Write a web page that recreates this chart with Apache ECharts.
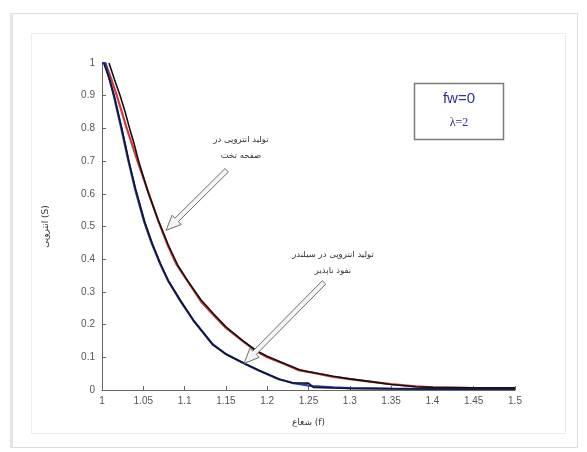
<!DOCTYPE html>
<html>
<head>
<meta charset="utf-8">
<script src="https://cdn.jsdelivr.net/npm/echarts@6/dist/echarts.min.js"></script>
<style>
  html, body { margin: 0; padding: 0; background: #ffffff; }
  #chart { width: 587px; height: 452px; }
</style>
</head>
<body>
<div id="chart"></div>
<script>
// Entropy generation profiles, fw = 0, lambda = 2
// Plate: red reference curve with the computed black curve over it
const plateRadius = [1.004, 1.010, 1.018, 1.030, 1.043, 1.056, 1.068, 1.080, 1.090, 1.103, 1.120, 1.134, 1.150, 1.170, 1.186, 1.200, 1.220, 1.239, 1.255, 1.280, 1.300, 1.319, 1.350, 1.380, 1.400, 1.450, 1.500];
const plateRed    = [1.000, 0.960, 0.900, 0.800, 0.700, 0.605, 0.518, 0.440, 0.385, 0.335, 0.270, 0.232, 0.190, 0.150, 0.120, 0.100, 0.080, 0.060, 0.053, 0.040, 0.033, 0.027, 0.018, 0.011, 0.008, 0.006, 0.006];
const plateBlackRadius = [1.0085, 1.015, 1.022, 1.028, 1.0334, 1.039, 1.0443, 1.056, 1.068, 1.080, 1.092, 1.104, 1.120, 1.135, 1.150, 1.170, 1.187, 1.200, 1.220, 1.239, 1.250, 1.280, 1.300, 1.319, 1.350, 1.380, 1.400, 1.450, 1.500];
const plateBlack  = [1.000, 0.950, 0.900, 0.850, 0.800, 0.752, 0.700, 0.603, 0.520, 0.445, 0.380, 0.333, 0.275, 0.233, 0.193, 0.152, 0.120, 0.103, 0.082, 0.062, 0.056, 0.042, 0.034, 0.028, 0.017, 0.010, 0.008, 0.007, 0.007];

// Impermeable cylinder: blue reference curve with the computed dark curve over it
const cylRadius = [1.000, 1.004, 1.0143, 1.0234, 1.032, 1.040, 1.051, 1.060, 1.070, 1.080, 1.095, 1.110, 1.134, 1.150, 1.174, 1.190, 1.214, 1.230, 1.255, 1.280, 1.300, 1.350, 1.400, 1.500];
const cylBlue   = [1.000, 1.000, 0.900, 0.800, 0.700, 0.615, 0.515, 0.450, 0.388, 0.334, 0.272, 0.215, 0.140, 0.110, 0.079, 0.060, 0.033, 0.022, 0.012, 0.008, 0.006, 0.004, 0.003, 0.003];
const cylDarkRadius = [1.002, 1.009, 1.0153, 1.0244, 1.033, 1.041, 1.052, 1.061, 1.071, 1.081, 1.096, 1.111, 1.134, 1.151, 1.175, 1.191, 1.215, 1.230, 1.250, 1.256, 1.280, 1.300, 1.350, 1.400, 1.500];
const cylDark   = [1.000, 0.950, 0.895, 0.795, 0.695, 0.612, 0.512, 0.447, 0.385, 0.331, 0.270, 0.212, 0.138, 0.108, 0.078, 0.059, 0.033, 0.022, 0.021, 0.008, 0.006, 0.005, 0.004, 0.003, 0.003];

// Axis ticks
const xMin = 1, xMax = 1.5, xStep = 0.05;
const yMin = 0, yMax = 1, yStep = 0.1;

// Annotation arrows: [tail radius, tail S, tip radius, tip S]
const plateArrow = [1.151, 0.672, 1.0775, 0.488];
const cylArrow   = [1.2688, 0.329, 1.1719, 0.081];

const pairs = (xs, ys) => xs.map((x, i) => [x, ys[i]]);

const chart = echarts.init(document.getElementById('chart'), null, { renderer: 'canvas' });

const persianFont = 'DejaVu Sans';

chart.setOption({
  animation: false,
  backgroundColor: '#ffffff',
  grid: { left: 102, right: 72, top: 63, bottom: 62 },
  xAxis: {
    type: 'value', min: xMin, max: xMax, interval: xStep,
    name: 'شعاع (f)', nameLocation: 'middle', nameGap: 28,
    nameTextStyle: { fontFamily: persianFont, fontSize: 9, color: '#333' },
    axisLine: { lineStyle: { color: '#666', width: 1 } },
    axisTick: { inside: true, length: 4, lineStyle: { color: '#666' } },
    axisLabel: { margin: 6, fontFamily: 'Liberation Sans', fontSize: 10, color: '#555',
      formatter: v => String(Math.round(v * 100) / 100) },
    splitLine: { show: false }
  },
  yAxis: {
    type: 'value', min: yMin, max: yMax, interval: yStep,
    name: 'انتروپی (S)', nameLocation: 'middle', nameGap: 52, nameRotate: 90,
    nameTextStyle: { fontFamily: persianFont, fontSize: 9, color: '#333' },
    axisLine: { show: true, lineStyle: { color: '#666', width: 1 } },
    axisTick: { show: true, inside: true, length: 4, lineStyle: { color: '#666' } },
    axisLabel: { margin: 7, fontFamily: 'Liberation Sans', fontSize: 10, color: '#555',
      formatter: v => String(Math.round(v * 10) / 10) },
    splitLine: { show: false }
  },
  series: [
    { type: 'line', data: pairs(plateRadius, plateRed), showSymbol: false,
      lineStyle: { color: '#d23a3a', width: 2.2 }, z: 2 },
    { type: 'line', data: pairs(plateBlackRadius, plateBlack), showSymbol: false,
      lineStyle: { color: '#111111', width: 1.6 }, z: 3 },
    { type: 'line', data: pairs(cylRadius, cylBlue), showSymbol: false,
      lineStyle: { color: '#2a3aa8', width: 2.2 }, z: 2 },
    { type: 'line', data: pairs(cylDarkRadius, cylDark), showSymbol: false,
      lineStyle: { color: '#14142e', width: 1.6 }, z: 3 }
  ]
});

// Hollow block arrow from tail to tip, in pixel space
function arrowShape(a) {
  const t = chart.convertToPixel({ gridIndex: 0 }, [a[0], a[1]]);
  const p = chart.convertToPixel({ gridIndex: 0 }, [a[2], a[3]]);
  const dx = p[0] - t[0], dy = p[1] - t[1];
  const len = Math.hypot(dx, dy);
  const ux = dx / len, uy = dy / len;
  const nx = -uy, ny = ux;
  const w = 2.4, h = 6.5, L = 15;
  const bx = p[0] - ux * L, by = p[1] - uy * L;
  return [
    [t[0] + nx * w, t[1] + ny * w],
    [bx + nx * w, by + ny * w],
    [bx + nx * h, by + ny * h],
    [p[0], p[1]],
    [bx - nx * h, by - ny * h],
    [bx - nx * w, by - ny * w],
    [t[0] - nx * w, t[1] - ny * w]
  ];
}

const arrowStyle = { fill: '#f4f4f4', stroke: '#6f6f6f', lineWidth: 1 };

chart.setOption({
  graphic: [
    // page frame and inner panel
    { type: 'rect', shape: { x: 12.5, y: 13.5, width: 565, height: 434 },
      style: { fill: 'none', stroke: '#dcdcdc', lineWidth: 1 }, z: -10 },
    { type: 'rect', shape: { x: 10, y: 13, width: 3, height: 435 },
      style: { fill: '#e4e4e4' }, z: -10 },
    { type: 'rect', shape: { x: 31.5, y: 33.5, width: 534, height: 400 },
      style: { fill: 'none', stroke: '#ececec', lineWidth: 1 }, z: -10 },
    // parameter box
    { type: 'rect', shape: { x: 414.5, y: 83.5, width: 89, height: 56 },
      style: { fill: '#ffffff', stroke: '#7a7a7a', lineWidth: 1.5 }, z: 10 },
    { type: 'text', x: 459, y: 99, z: 11,
      style: { text: 'fw=0', fontFamily: 'Liberation Sans', fontSize: 15,
        fill: '#2f2f9a', align: 'center', verticalAlign: 'middle' } },
    { type: 'text', x: 459, y: 123, z: 11,
      style: { text: 'λ=2', fontFamily: 'Liberation Serif', fontSize: 12,
        fill: '#2f2f9a', align: 'center', verticalAlign: 'middle' } },
    // annotations
    { type: 'text', x: 241, y: 148, z: 11,
      style: { text: 'تولید انتروپی در\nصفحه تخت', fontFamily: persianFont, fontSize: 8.5,
        lineHeight: 16, fill: '#333', align: 'center', verticalAlign: 'middle' } },
    { type: 'text', x: 333, y: 263, z: 11,
      style: { text: 'تولید انتروپی در سیلندر\nنفوذ ناپذیر', fontFamily: persianFont, fontSize: 8.5,
        lineHeight: 16, fill: '#333', align: 'center', verticalAlign: 'middle' } },
    { type: 'polygon', shape: { points: arrowShape(plateArrow) }, style: arrowStyle, z: 12 },
    { type: 'polygon', shape: { points: arrowShape(cylArrow) }, style: arrowStyle, z: 12 }
  ]
});
</script>
</body>
</html>
